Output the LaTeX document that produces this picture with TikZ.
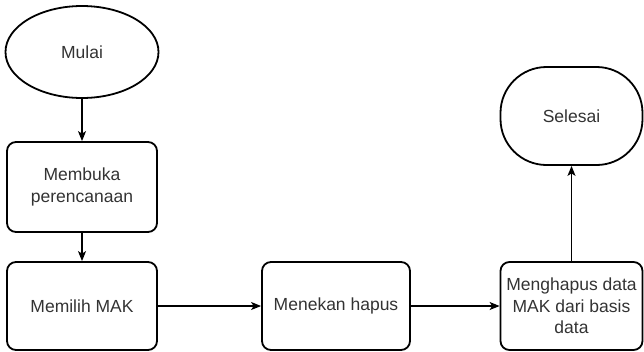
\documentclass[tikz,border=0pt]{standalone}
\usepackage{fontspec}
\setmainfont{Liberation Sans}
\usetikzlibrary{shapes.geometric,arrows.meta}

\tikzset{
	stepbox/.style = {draw, line width = 1.8pt, rounded corners = 9pt, inner sep = 0pt, align = center,
		text = black!80, font = \fontsize{17.5}{21.5}\selectfont},
	flow/.style = {line width = 1.3pt, -{Stealth[length = 10pt, width = 8pt, inset = 2.5pt]}}
}

\begin{document}
\begin{tikzpicture}[x = 1pt, y = -1pt]
	\useasboundingbox (0, 0) rectangle (644, 351);
	\node[stepbox, ellipse, rounded corners = 0pt, minimum width = 153pt, minimum height = 92pt] (mulai) at (82, 52) {Mulai};
	\node[stepbox, minimum width = 150pt, minimum height = 90pt] (membuka) at (82, 187) {Membuka\\perencanaan};
	\node[stepbox, minimum width = 150pt, minimum height = 88pt] (memilih) at (82, 306) {Memilih MAK};
	\node[stepbox, minimum width = 148pt, minimum height = 88pt] (menekan) at (336, 306) {Menekan hapus};
	\node[stepbox, minimum width = 142pt, minimum height = 88pt] (menghapus) at (571.5, 306) {Menghapus data\\MAK dari basis\\data};
	\node[stepbox, rounded corners = 46pt, minimum width = 142pt, minimum height = 98pt] (selesai) at (571.5, 116) {Selesai};
	\draw[flow] (mulai) -- (membuka);
	\draw[flow] (membuka) -- (memilih);
	\draw[flow] (memilih) -- (menekan);
	\draw[flow] (menekan) -- (menghapus);
	\draw[flow] (menghapus) -- (selesai);
\end{tikzpicture}
\end{document}
